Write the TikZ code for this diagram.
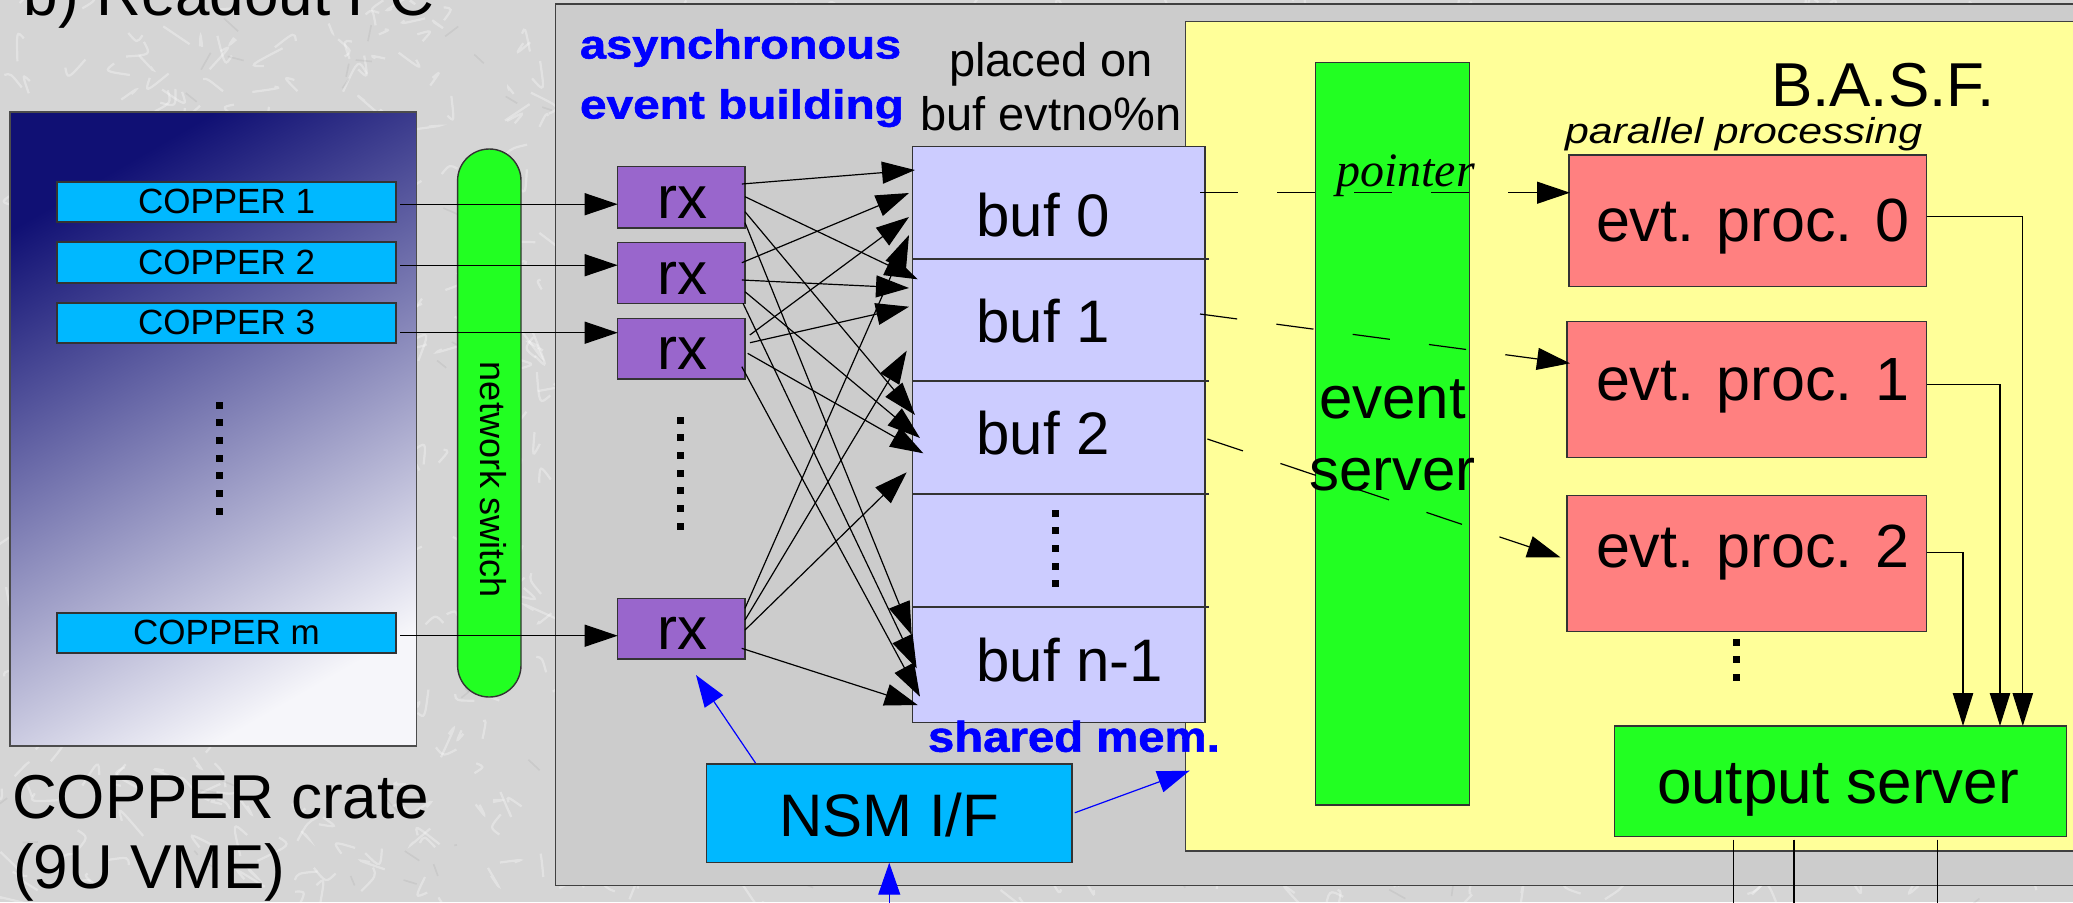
\documentclass[tikz,border=0pt]{standalone}
\usepackage{fontspec}
\setmainfont{Liberation Sans}
\newfontfamily\seriffam{Liberation Serif}
\newfontfamily\heavyfam{Liberation Sans}[BoldFeatures={FakeBold=1.3}]
\usetikzlibrary{arrows.meta,calc,fit}

\definecolor{marble}{HTML}{D5D5D5}
\definecolor{panelgray}{HTML}{CCCCCC}
\definecolor{basfyellow}{HTML}{FFFF99}
\definecolor{buflav}{HTML}{CCCCFF}
\definecolor{rxpurple}{HTML}{9966CC}
\definecolor{coppercyan}{HTML}{00B8FF}
\definecolor{srvgreen}{HTML}{22FF22}
\definecolor{procred}{HTML}{FF8080}
\definecolor{crateTL}{HTML}{101074}
\definecolor{crateMid}{HTML}{7A7ABA}
\definecolor{crateBR}{HTML}{F6F6FA}
\definecolor{edge}{HTML}{333333}

\newcommand\fsz[2]{\fontsize{#1pt}{#2pt}\selectfont}

\begin{document}
\begin{tikzpicture}[x=0.5pt,y=-0.5pt,
  box/.style={draw=edge, line width=0.7pt, inner sep=0pt, outer sep=0pt},
  lbl/.style={inner sep=0pt, outer sep=0pt, anchor=base west},
  clbl/.style={inner sep=0pt, outer sep=0pt, anchor=base},
  conn/.style={line width=0.6pt, draw=black},
  arr/.style={conn, -{Triangle[length=16.5pt,width=11pt]}},
  downarr/.style={conn, -{Triangle[length=16.5pt,width=10.2pt]}},
  nsmarr/.style={line width=0.6pt, draw=blue, -{Triangle[length=16pt,width=11pt]}},
  ptrarr/.style={arr, dash pattern=on 18.75pt off 19.75pt},
]
\useasboundingbox (0,0) rectangle (2073,902);
\clip (0,0) rectangle (2073,902);

% marble backdrop
\fill[marble] (0,0) rectangle (2073,902);
\pgfmathsetseed{11}
\foreach \k in {1,...,1300}{
  \pgfmathsetmacro\xa{rnd*2073}
  \pgfmathsetmacro\ya{rnd*902}
  \pgfmathsetmacro\xb{\xa+rand*24}
  \pgfmathsetmacro\yb{\ya+rand*24}
  \draw[white, opacity=0.33, line width=1.1pt] (\xa,\ya) .. controls ({\xa+rand*16},{\ya+rand*16}) .. (\xb,\yb);
}
\foreach \k in {1,...,300}{
  \pgfmathsetmacro\xa{rnd*2073}
  \pgfmathsetmacro\ya{rnd*902}
  \draw[black, opacity=0.05, line width=0.8pt] (\xa,\ya) -- ({\xa+rand*18},{\ya+rand*18});
}

% COPPER crate
\node[box, draw=black!70, fit={(10,112) (416.5,746)},
      top color=crateTL, middle color=crateMid, bottom color=crateBR, shading angle=30] (crate) {};
\node[box, fill=coppercyan, fit={(57,182) (396,222)}] (c1) {};
\node[box, fill=coppercyan, fit={(57,242) (396,283)}] (c2) {};
\node[box, fill=coppercyan, fit={(57,303) (396,343)}] (c3) {};
\node[box, fill=coppercyan, fit={(57,613) (396,653)}] (cm) {};
\foreach \c/\t in {c1/COPPER 1, c2/COPPER 2, c3/COPPER 3, cm/COPPER m}
  \node[clbl, font=\fsz{17.5}{20}] (\c lbl) at ($(\c.center)+(0,11.5)$) {\t};
\foreach \i in {0,...,6}
  \fill ({219-3.5},{405+17.67*\i-3.5}) rectangle ++(7,7);

\node[lbl, font=\fsz{31}{36}] (cratelbl1) at (12,818) {COPPER crate};
\node[lbl, font=\fsz{31}{36}] (cratelbl2) at (13,888) {(9U VME)};
\node[lbl, font=\fsz{31}{36}] (title) at (24,15) {b) Readout PC};

% network switch
\node[box, fill=srvgreen, rounded corners=15.8pt, fit={(457.6,149) (521,697)}] (sw) {};
\node[rotate=-90, inner sep=0pt, font=\fsz{18}{20}] (swlbl) at ($(sw.center)+(4,57)$) {network switch};

% event building PC
\node[box, draw=black!75, fill=panelgray, fit={(555.6,4) (2110,885.7)}] (pc) {};
\node[box, draw=black!75, fill=basfyellow, fit={(1185.7,21.7) (2110,851)}] (basf) {};

% shared memory buffers
\node[box, fill=buflav, fit={(912.5,146.7) (1205,259)}] (buf0) {};
\node[box, fill=buflav, fit={(912.5,259) (1205,381)}] (buf1) {};
\node[box, fill=buflav, fit={(912.5,381) (1205,494)}] (buf2) {};
\node[box, fill=buflav, fit={(912.5,494) (1205,607)}] (bufd) {};
\node[box, fill=buflav, fit={(912.5,607) (1205,722.7)}] (bufn) {};
\foreach \b in {buf0,buf1,buf2,bufd}
  \draw[edge, line width=0.7pt] (\b.south west) -- ($(\b.south east)+(4,0)$);
\foreach \i in {0,...,4}
  \fill ({1055.6-3.5},{513+17.7*\i-3.5}) rectangle ++(7,7);

% receivers
\node[box, fill=rxpurple, fit={(617.7,166.7) (745,228)}] (rx1) {};
\node[box, fill=rxpurple, fit={(617.7,242.7) (745,303.3)}] (rx2) {};
\node[box, fill=rxpurple, fit={(617.7,318.3) (745,379)}] (rx3) {};
\node[box, fill=rxpurple, fit={(617.7,598.3) (745,659)}] (rxm) {};
\foreach \r in {rx1,rx2,rx3,rxm}
  \node[clbl, font=\fsz{30}{34}] (\r lbl) at ($(\r.north)+(1.5,51.5)$) {rx};
\foreach \i in {0,...,6}
  \fill ({680.6-3.5},{420+17.7*\i-3.5}) rectangle ++(7,7);

% NSM interface
\node[box, fill=coppercyan, fit={(706.5,764) (1072,862.7)}] (nsm) {};
\node[clbl, font=\fsz{30}{34}] (nsmlbl) at ($(nsm.center)+(0,22.7)$) {NSM I/F};

% event server
\node[box, fill=srvgreen, fit={(1315.5,62.3) (1469.3,805)}] (evs) {};

% event processes
\node[box, fill=procred, fit={(1569,155) (1926.6,286.7)}] (ep0) {};
\node[box, fill=procred, fit={(1567,321.7) (1926.6,457.3)}] (ep1) {};
\node[box, fill=procred, fit={(1567,495.7) (1926.6,631.7)}] (ep2) {};
\foreach \i in {0,...,2}
  \fill ({1736.4-3.5},{642+17.6*\i-3.5}) rectangle ++(7,7);

% output server
\node[box, fill=srvgreen, fit={(1614.5,726) (2066.7,836.7)}] (os) {};

% COPPER -> rx
\foreach \c/\r/\d in {c1/rx1/2.2, c2/rx2/2.7, c3/rx3/9.7, cm/rxm/2.7}{
  \coordinate (\c out) at ($(\c.east)+(4,\d)$);
  \draw[arr] (\c out) -- (\c out -| \r.west);
}

% rx -> buffers (every receiver feeds every buffer)
\foreach \r/\sx/\sy/\b/\tx/\ty in {
  rx1/-3.2/17.3/buf0/2.5/23.3, rx1/0/30/buf1/5.2/20.3, rx1/0/45/buf2/2.5/34, rx1/0/56/bufn/-0.8/28,
  rx2/-3.2/20/buf0/-3.5/46.3, rx2/-3.2/37.3/buf1/-3.5/29, rx2/0/49/buf2/7.5/57, rx2/-2/60.6/bufn/4.2/61.3,
  rx3/4.8/16.7/buf0/-3.5/70.3, rx3/5/24.4/buf1/-3.5/47.7, rx3/2.6/35/buf2/10.8/72.3, rx3/-3.2/48.4/bufn/7.5/89.7,
  rxm/0/10/buf0/-3.5/88.3, rxm/0/21.7/buf1/-5.8/91.7, rxm/0/31.7/buf2/-5.8/91.3, rxm/-3.3/50/bufn/5.2/98}
  \draw[arr] ($(\r.north east)+(\sx,\sy)$) -- ($(\b.north west)+(\tx,\ty)$);

% buffer pointers handed to the processes
\draw[ptrarr] ($(buf0.north east)+(-5,46)$) -- ($(ep0.north west)+(1,37.7)$);
\draw[ptrarr] ($(buf1.north east)+(-5,55)$) -- ($(ep1.north west)+(3,41.6)$);
\draw[ptrarr] ($(buf2.north east)+(2.4,58)$) -- ($(ep2.north west)+(-6.6,61.6)$);

% processes -> output server
\draw[downarr] ($(ep0.north east)+(0,61.7)$) -| ($(os.north west)+(408.3,0)$);
\draw[downarr] ($(ep1.north east)+(0,62.6)$) -| ($(os.north west)+(385.5,0)$);
\draw[downarr] ($(ep2.north east)+(0,57)$) -| ($(os.north west)+(348.5,0)$);
\coordinate (floor) at (0,905);
\foreach \dx in {119,179.5,322.9}
  \draw[conn] ($(os.south west)+(\dx,3)$) -- ($(os.south west)+(\dx,75)$);

% NSM control paths
\draw[nsmarr] ($(nsm.north west)+(49,-1)$) -- ($(rxm.south west)+(78.3,16)$);
\draw[nsmarr] ($(nsm.east)+(2.8,-0.6)$) -- ($(basf.south west)+(3.9,-80.3)$);
\draw[nsmarr] (nsm.south |- floor) -- (nsm.south);

% labels
\node[lbl, font=\heavyfam\bfseries\fsz{20.25}{24}, text=blue] (async1) at (580,58.5) {\scalebox{1.16}[1]{asynchronous}};
\node[lbl, font=\heavyfam\bfseries\fsz{20.25}{24}, text=blue] (async2) at (580,118.5) {\scalebox{1.18}[1]{event building}};
\node[clbl, font=\fsz{23.5}{27}] (place1) at (1051,76) {placed on};
\node[clbl, font=\fsz{23.5}{27}] (place2) at (1051,130) {buf evtno\%n};
\node[lbl, font=\fsz{30}{34}] (buf0lbl) at (976.5,236) {buf 0};
\node[lbl, font=\fsz{30}{34}] (buf1lbl) at (976.5,342) {buf 1};
\node[lbl, font=\fsz{30}{34}] (buf2lbl) at (976.5,454) {buf 2};
\node[lbl, font=\fsz{30}{34}] (bufnlbl) at (976.5,681.7) {buf n-1};
\node[lbl, font=\heavyfam\bfseries\fsz{21.5}{25}, text=blue] (shm) at (928,751.7) {\scalebox{1.1}[1]{shared mem.}};
\node[clbl, font=\fsz{30}{34}] (evs1) at (1392.4,418) {event};
\node[clbl, font=\fsz{30}{34}] (evs2) at (1392.4,490) {server};
\node[lbl, font=\seriffam\itshape\fsz{24}{28}] (ptr) at (1336,186.7) {pointer};
\node[lbl, font=\itshape\fsz{18}{22}] (par) at (1565,143.3) {\scalebox{1.19}[1]{parallel processing}};
\node[lbl, font=\fsz{31}{36}] (basflbl) at (1771,106) {B.A.S.F.};
\node[lbl, font=\fsz{30.5}{35}] (ep0lbl) at (1596,241.7) {evt. proc. 0};
\node[lbl, font=\fsz{30.5}{35}] (ep1lbl) at (1596,400) {evt. proc. 1};
\node[lbl, font=\fsz{30.5}{35}] (ep2lbl) at (1596,567.3) {evt. proc. 2};
\node[lbl, font=\fsz{31}{36}] (oslbl) at (1657,803.3) {output server};
\end{tikzpicture}
\end{document}
